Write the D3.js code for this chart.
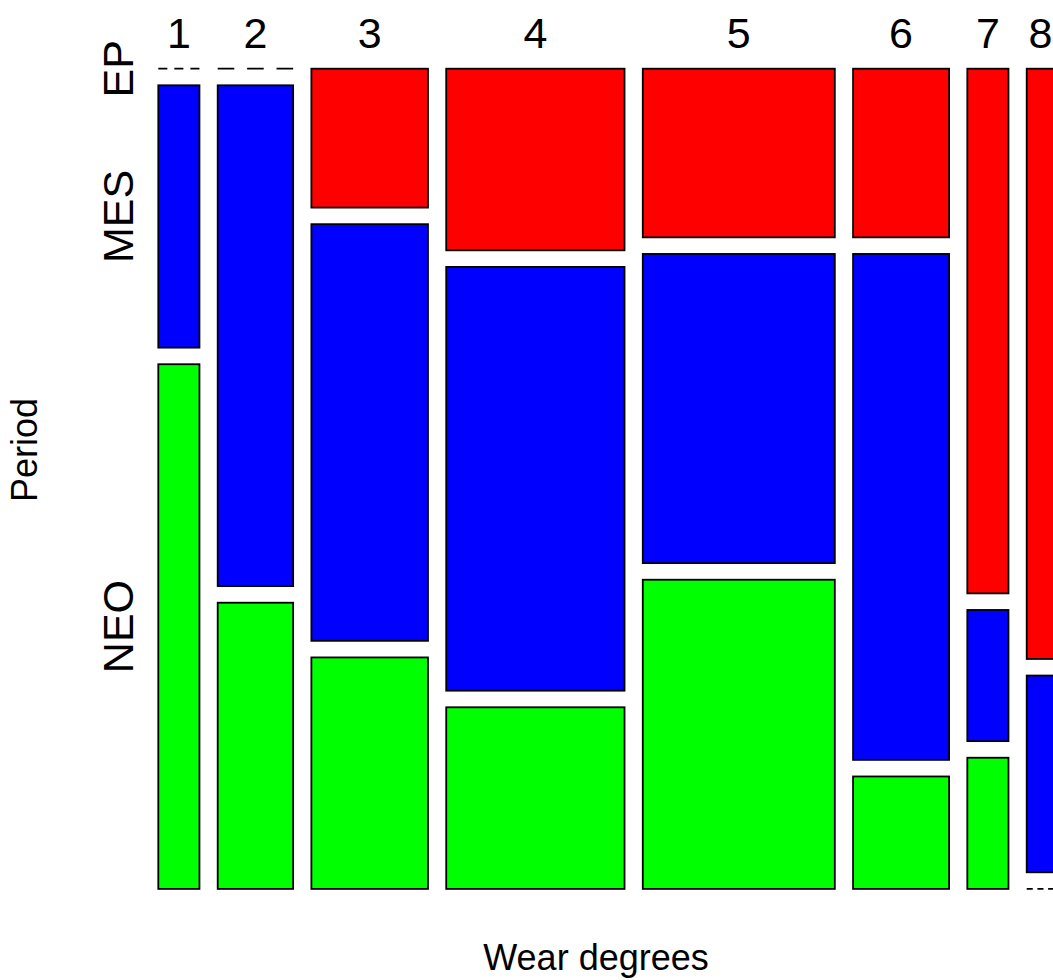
<!DOCTYPE html>
<html>
<head>
<meta charset="utf-8">
<script src="https://cdn.jsdelivr.net/npm/d3@7"></script>
<style>
  html, body { margin: 0; padding: 0; background: #fff; }
  svg { display: block; }
  text { font-family: "Liberation Sans", Arial, sans-serif; fill: #000; }
</style>
</head>
<body>
<script>
// ---- data ----
const categories = ["1", "2", "3", "4", "5", "6", "7", "8"];
const periods = ["EP", "MES", "NEO"];
const colors = ["#FF0000", "#0000FF", "#00FF00"];
const EP  = [0, 0, 3, 6, 6, 3, 4, 3];
const MES = [2, 7, 9, 14, 11, 9, 1, 1];
const NEO = [4, 4, 5, 6, 11, 2, 1, 0];
const xTitle = "Wear degrees";
const yTitle = "Period";

// ---- layout ----
const W = 1053, H = 980;
const leftX = 158.3, topY = 68.7;
const gapX = 18.25, gapY = 16.6;
const countWidth = 768.1;   // pixel width used by counts (excluding gaps)
const countHeight = 787;    // pixel height used by counts within each column

const series = [EP, MES, NEO];
const colTotals = categories.map((c, i) => series.reduce((s, a) => s + a[i], 0));
const grand = d3.sum(colTotals);

const xs = d3.scaleLinear().domain([0, grand]).range([0, countWidth]);

const svg = d3.select("body").append("svg")
  .attr("width", W).attr("height", H)
  .style("background", "#fff");

let cum = 0;
const cols = categories.map((c, i) => {
  const x0 = leftX + i * gapX + xs(cum);
  const x1 = leftX + i * gapX + xs(cum + colTotals[i]);
  cum += colTotals[i];
  return { cat: c, i, x0, x1 };
});

const g = svg.append("g");

cols.forEach(col => {
  const ys = d3.scaleLinear().domain([0, colTotals[col.i]]).range([0, countHeight]);
  let c2 = 0;
  periods.forEach((p, j) => {
    const v = series[j][col.i];
    const y0 = topY + j * gapY + ys(c2);
    const y1 = topY + j * gapY + ys(c2 + v);
    c2 += v;
    col["y" + j] = [y0, y1];
    if (v > 0) {
      g.append("rect")
        .attr("x", col.x0).attr("y", y0)
        .attr("width", col.x1 - col.x0).attr("height", y1 - y0)
        .attr("fill", colors[j])
        .attr("stroke", "#000").attr("stroke-width", 1.8);
    } else {
      // zero cell: dashed line with three evenly spaced dashes
      const w = col.x1 - col.x0;
      const dash = w * 0.22;
      const gap = (w - 3 * dash) / 2;
      g.append("line")
        .attr("x1", col.x0).attr("x2", col.x1)
        .attr("y1", y0).attr("y2", y0)
        .attr("stroke", "#000").attr("stroke-width", 1.8)
        .attr("stroke-dasharray", `${dash},${gap}`);
    }
  });
});

// column labels
svg.selectAll("text.col").data(cols).enter().append("text")
  .attr("class", "col")
  .attr("x", d => (d.x0 + d.x1) / 2)
  .attr("y", 48)
  .attr("text-anchor", "middle")
  .attr("font-size", 43)
  .text(d => d.cat);

// row labels (at first column's segments)
const first = cols[0];
periods.forEach((p, j) => {
  const yc = (first["y" + j][0] + first["y" + j][1]) / 2;
  svg.append("text")
    .attr("transform", `translate(133,${yc}) rotate(-90)`)
    .attr("text-anchor", "middle")
    .attr("font-size", 43)
    .text(p);
});

// titles
svg.append("text")
  .attr("x", 596).attr("y", 970)
  .attr("text-anchor", "middle")
  .attr("font-size", 36)
  .text(xTitle);

svg.append("text")
  .attr("transform", "translate(37,450) rotate(-90)")
  .attr("text-anchor", "middle")
  .attr("font-size", 36)
  .text(yTitle);
</script>
</body>
</html>
